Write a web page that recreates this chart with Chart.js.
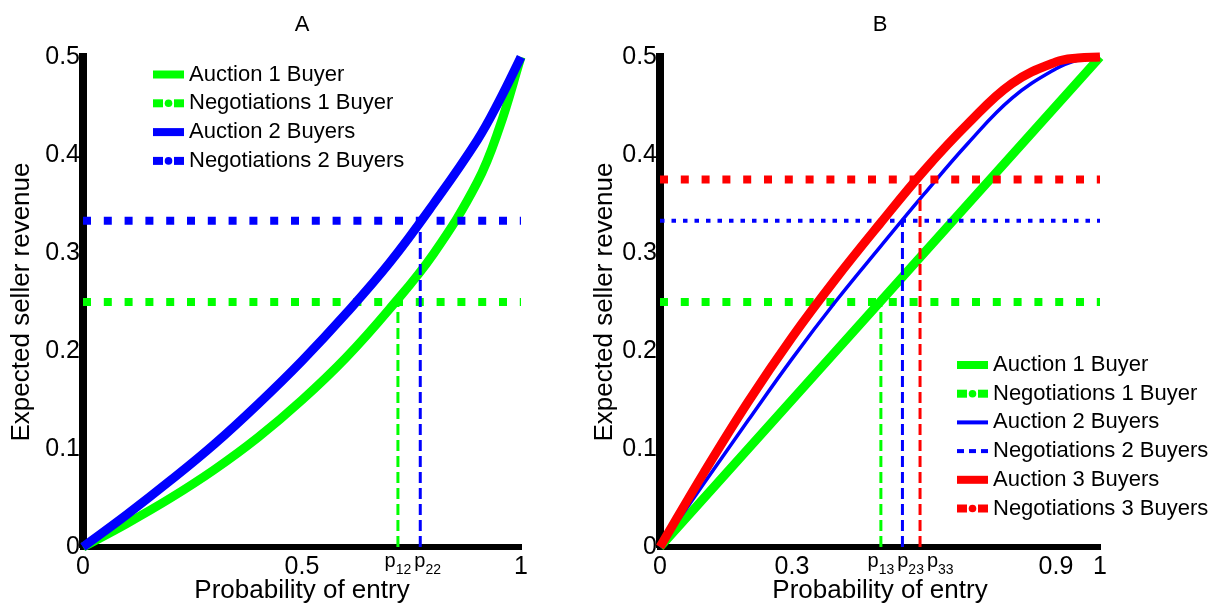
<!DOCTYPE html>
<html>
<head>
<meta charset="utf-8">
<script src="https://cdn.jsdelivr.net/npm/chart.js@4.4.1/dist/chart.umd.min.js"></script>
<style>
  html, body { margin: 0; padding: 0; background: #fff; }
  body { width: 1209px; height: 603px; position: relative; overflow: hidden; }
  .panel { position: absolute; top: 0; }
  #panelA { left: 0; }
  #panelB { left: 583px; }
</style>
</head>
<body>
<div class="panel" id="panelA"><canvas id="chartA" width="600" height="603"></canvas></div>
<div class="panel" id="panelB"><canvas id="chartB" width="626" height="603"></canvas></div>
<script>
const GREEN = "#00ff00"
const BLUE = "#0000ff"
const RED = "#ff0000"
const FONT = "'Liberation Sans', Arial, Helvetica, sans-serif"

const yTicks = [0, 0.1, 0.2, 0.3, 0.4, 0.5]

// Panel A
const entryA = [0, 0.1, 0.2, 0.3, 0.4, 0.5, 0.6, 0.7, 0.8, 0.9, 0.95, 1]
const auction1A = [0, 0.024, 0.050, 0.079, 0.112, 0.150, 0.193, 0.243, 0.299, 0.372, 0.427, 0.5]
const auction2A = [0, 0.033, 0.068, 0.105, 0.146, 0.190, 0.238, 0.290, 0.350, 0.415, 0.455, 0.5]
const negotiationA = [0.25, 0.333]
const thresholdA = [0.719, 0.770]
const thresholdSubA = ["12", "22"]
const xTicksA = [0, 0.5, 1]
const legendA = ["Auction 1 Buyer", "Negotiations 1 Buyer", "Auction 2 Buyers", "Negotiations 2 Buyers"]

// Panel B
const entryB = [0, 0.1, 0.2, 0.3, 0.4, 0.5, 0.6, 0.7, 0.8, 0.9, 0.95, 1]
const auction1B = [0, 0.05, 0.1, 0.15, 0.2, 0.25, 0.3, 0.35, 0.4, 0.45, 0.475, 0.5]
const auction2B = [0, 0.065, 0.129, 0.192, 0.251, 0.306, 0.36, 0.412, 0.458, 0.488, 0.497, 0.5]
const auction3B = [0, 0.076, 0.148, 0.214, 0.274, 0.330, 0.384, 0.432, 0.473, 0.495, 0.499, 0.5]
const negotiationB = [0.25, 0.333, 0.375]
const thresholdB = [0.502, 0.551, 0.591]
const thresholdSubB = ["13", "23", "33"]
const xTicksB = [0, 0.3, 0.9, 1]
const legendB = ["Auction 1 Buyer", "Negotiations 1 Buyer", "Auction 2 Buyers", "Negotiations 2 Buyers", "Auction 3 Buyers", "Negotiations 3 Buyers"]

const zip = (xs, ys) => xs.map((x, i) => ({ x, y: ys[i] }))

function curve(xs, ys, color, width, order) {
  return {
    data: zip(xs, ys), borderColor: color, borderWidth: width,
    tension: 0.4, pointRadius: 0, clip: false, order
  }
}

function level(value, color, width, dash, order) {
  return {
    data: [{ x: 0, y: value }, { x: 1, y: value }], borderColor: color, borderWidth: width,
    borderDash: dash, borderCapStyle: "butt", pointRadius: 0, clip: false, order
  }
}

function drop(p, value, color, order) {
  return {
    data: [{ x: p, y: 0 }, { x: p, y: value }], borderColor: color, borderWidth: 3,
    borderDash: [11, 5], borderCapStyle: "butt", pointRadius: 0, clip: false, order
  }
}

const THICK_DOTS = [8, 12.8]
const THIN_DOTS = [4.5, 7]

const datasetsA = [
  curve(entryA, auction1A, GREEN, 9, 0),
  level(negotiationA[0], GREEN, 8, THICK_DOTS, -1),
  curve(entryA, auction2A, BLUE, 9, -2),
  level(negotiationA[1], BLUE, 8, THICK_DOTS, -3),
  drop(thresholdA[0], negotiationA[0], GREEN, -4),
  drop(thresholdA[1], negotiationA[1], BLUE, -5)
]

const datasetsB = [
  curve(entryB, auction1B, GREEN, 9, 0),
  level(negotiationB[0], GREEN, 8, THICK_DOTS, -1),
  curve(entryB, auction2B, BLUE, 3.5, -2),
  level(negotiationB[1], BLUE, 4, THIN_DOTS, -3),
  curve(entryB, auction3B, RED, 9, -4),
  level(negotiationB[2], RED, 8, THICK_DOTS, -5),
  drop(thresholdB[0], negotiationB[0], GREEN, -6),
  drop(thresholdB[1], negotiationB[1], BLUE, -7),
  drop(thresholdB[2], negotiationB[2], RED, -8)
]

// legend swatches: solid / dots / thin / thinDots
const styleA = [["solid", GREEN], ["dots", GREEN], ["solid", BLUE], ["dots", BLUE]]
const styleB = [["solid", GREEN], ["dots", GREEN], ["thin", BLUE], ["thinDots", BLUE], ["solid", RED], ["dots", RED]]

function drawSwatch(ctx, kind, color, x, y) {
  ctx.fillStyle = color
  if (kind === "solid") {
    ctx.fillRect(x, y - 4, 31, 8)
  } else if (kind === "thin") {
    ctx.fillRect(x, y - 2, 31, 4)
  } else if (kind === "dots") {
    ctx.fillRect(x, y - 4, 10, 8)
    ctx.beginPath()
    ctx.arc(x + 15.5, y, 3.8, 0, Math.PI * 2)
    ctx.fill()
    ctx.fillRect(x + 21, y - 4, 10, 8)
  } else {
    for (let k = 0; k < 3; k++) ctx.fillRect(x + k * 12, y - 2, 7, 4)
  }
}

const annotations = {
  id: "annotations",
  afterDraw(chart, args, opts) {
    const { ctx, chartArea, scales: { x } } = chart
    ctx.save()

    // p_ij labels under the x axis
    let prevEnd = -Infinity
    opts.thresholds.forEach((p, i) => {
      ctx.font = `20px ${FONT}`
      const wp = ctx.measureText("p").width
      ctx.font = `14px ${FONT}`
      const ws = ctx.measureText(opts.subs[i]).width
      const px = x.getPixelForValue(p)
      const start = Math.max(px - (wp + ws) / 2, prevEnd + 3)
      ctx.fillStyle = "#000"
      ctx.textBaseline = "alphabetic"
      ctx.textAlign = "left"
      ctx.font = `20px ${FONT}`
      ctx.fillText("p", start, chartArea.bottom + 20)
      ctx.font = `14px ${FONT}`
      ctx.fillText(opts.subs[i], start + wp, chartArea.bottom + 27)
      prevEnd = start + wp + ws
    })

    // legend
    ctx.font = `22px ${FONT}`
    ctx.textBaseline = "middle"
    opts.labels.forEach((label, i) => {
      const y = chartArea.top + opts.top + i * opts.step
      const sx = chartArea.left + opts.left
      drawSwatch(ctx, opts.styles[i][0], opts.styles[i][1], sx, y)
      ctx.fillStyle = "#000"
      ctx.fillText(label, sx + 36, y)
    })
    ctx.restore()
  }
}

function panelConfig(p) {
  return {
    type: "line",
    data: { datasets: p.datasets },
    options: {
      responsive: false,
      animation: false,
      events: [],
      layout: { padding: { left: 0, right: p.padRight, top: 0, bottom: 0 } },
      scales: {
        x: {
          type: "linear",
          min: 0,
          max: 1,
          afterBuildTicks: s => { s.ticks = p.xTicks.map(v => ({ value: v })) },
          afterFit: s => { s.height = 56 },
          grid: { display: false, drawTicks: false },
          border: { display: true, color: "#000", width: 6, z: 0 },
          ticks: {
            z: -2, padding: 5, color: "#000", autoSkip: false, maxRotation: 0,
            font: { family: FONT, size: 25, lineHeight: 1.2 },
            callback: v => String(v)
          },
          title: {
            display: true, text: "Probability of entry", color: "#000",
            font: { family: FONT, size: 26, lineHeight: 1 },
            padding: { top: 0, bottom: -1 }
          }
        },
        y: {
          type: "linear",
          min: 0,
          max: 0.5,
          afterBuildTicks: s => { s.ticks = yTicks.map(v => ({ value: v })) },
          afterFit: s => { s.width = p.axisWidth },
          grid: { display: false, drawTicks: false },
          border: { display: true, color: "#000", width: 8, z: 0 },
          ticks: {
            z: -2, padding: 3, color: "#000",
            font: { family: FONT, size: 25, lineHeight: 1.2 },
            callback: v => String(v)
          },
          title: {
            display: true, text: "Expected seller revenue", color: "#000",
            font: { family: FONT, size: 26, lineHeight: 1 },
            padding: { top: 9, bottom: 0 }
          }
        }
      },
      plugins: {
        legend: { display: false },
        tooltip: { enabled: false },
        title: {
          display: true, text: p.title, fullSize: false, color: "#000",
          font: { family: FONT, size: 22, weight: "normal", lineHeight: 1.2 },
          padding: { top: 11.8, bottom: 18.8 }
        },
        annotations: p.annotations
      }
    },
    plugins: [annotations]
  }
}

new Chart(document.getElementById("chartA"), panelConfig({
  title: "A",
  datasets: datasetsA,
  xTicks: xTicksA,
  axisWidth: 83,
  padRight: 79,
  annotations: {
    thresholds: thresholdA, subs: thresholdSubA,
    labels: legendA, styles: styleA, left: 70, top: 17.5, step: 28.8
  }
}))

new Chart(document.getElementById("chartB"), panelConfig({
  title: "B",
  datasets: datasetsB,
  xTicks: xTicksB,
  axisWidth: 77,
  padRight: 109,
  annotations: {
    thresholds: thresholdB, subs: thresholdSubB,
    labels: legendB, styles: styleB, left: 297, top: 308, step: 28.7
  }
}))
</script>
</body>
</html>
